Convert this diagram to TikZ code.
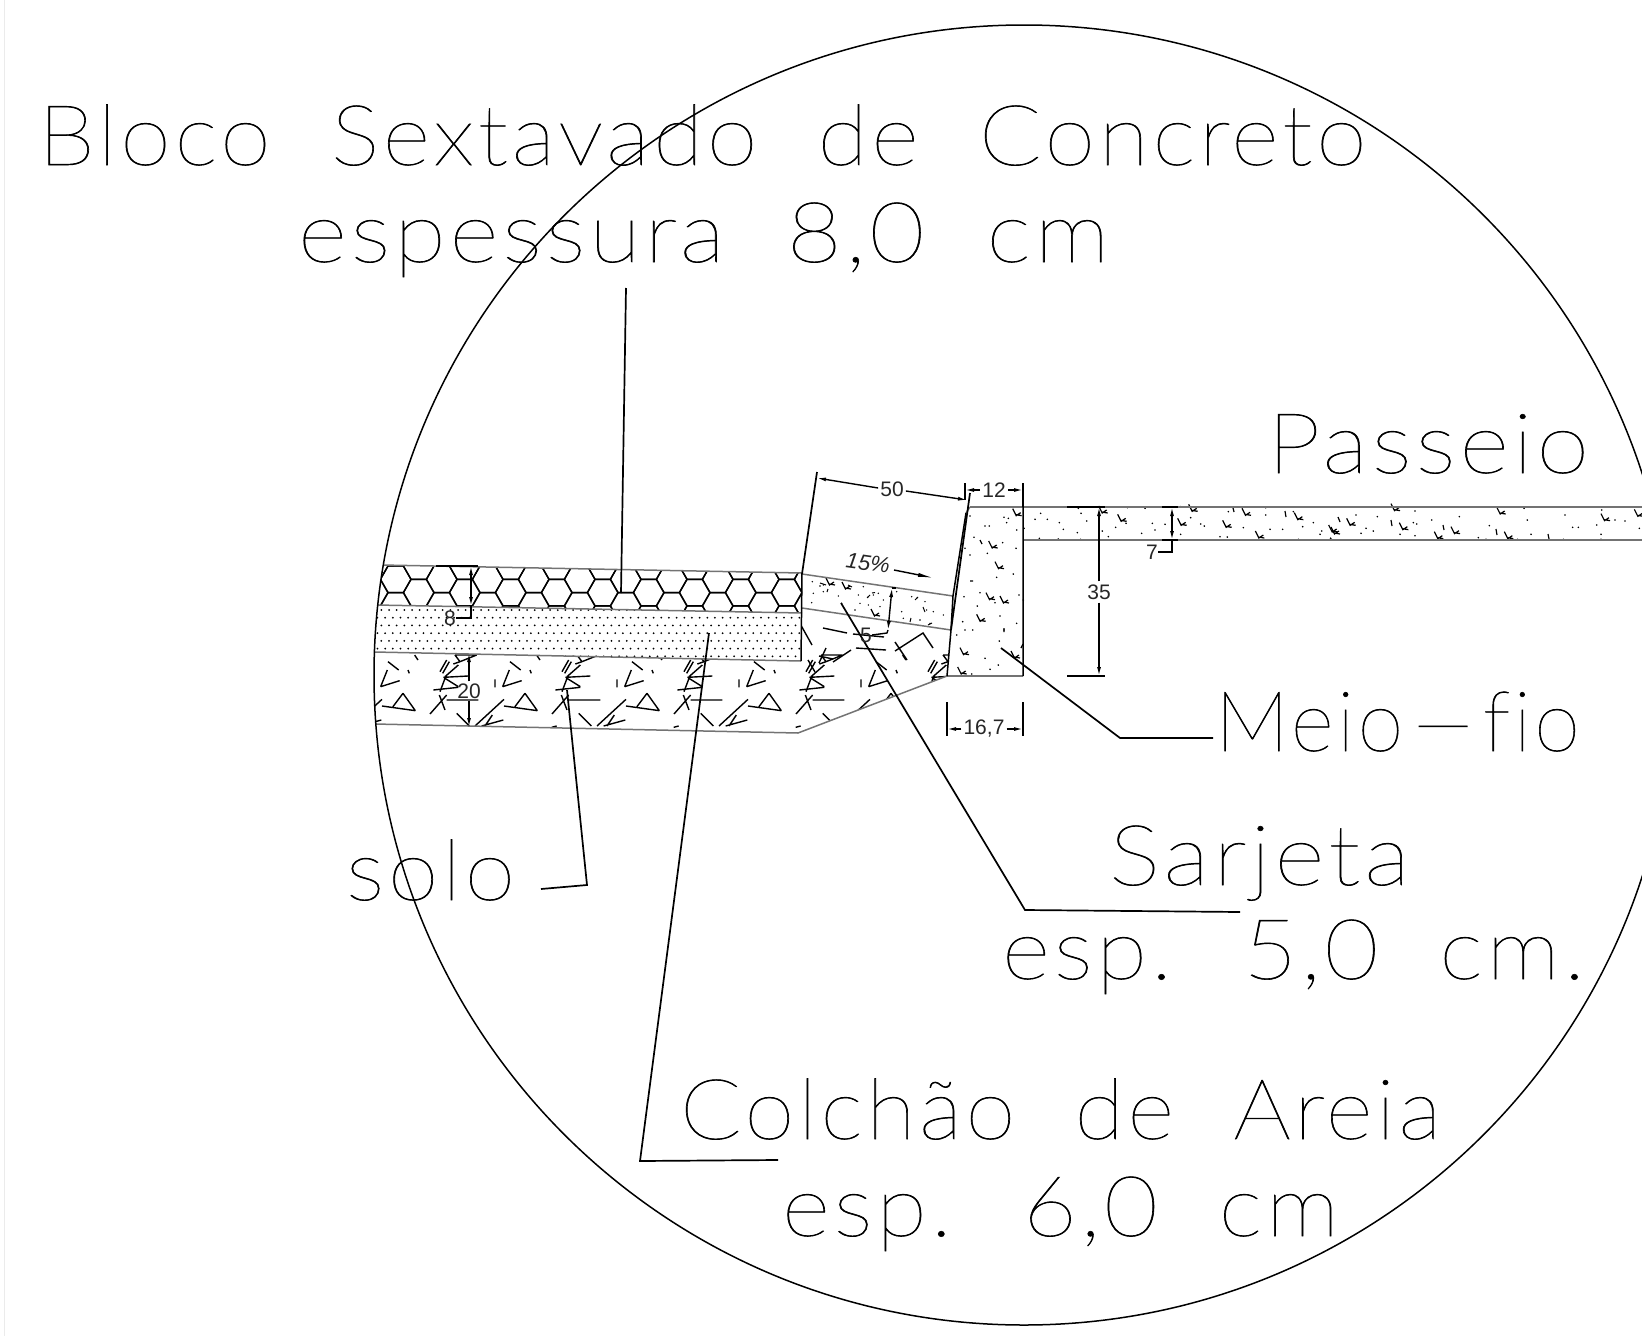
\documentclass[tikz,border=0pt]{standalone}
\usepackage{fontspec}
\usepackage{graphicx}
\usetikzlibrary{arrows.meta}
\setmainfont{Liberation Sans}
\newfontfamily\cadfont{Lato}[UprightFont=* Hairline,LetterSpace=4,FakeBold=0.7,Ligatures=NoCommon]
\newcommand{\cadtext}[5]{\node[cadlabel] (#1) at (#2,#3) {\resizebox{#4pt}{\height}{\cadfont\fontsize{84}{90}\selectfont #5}};}
\newcommand{\wsp}{ \hspace{.33em}}
\newcommand{\chk}[2]{\draw[mark stroke] ({#1-4},{#2-4}) -- ({#1-0.5},{#2+3}) -- ({#1+4},{#2}) ({#1-1},{#2+2}) -- ({#1+5},{#2+3});}
\tikzset{
  cadlabel/.style={anchor=base west,inner sep=0pt,outer sep=0pt},
  dimlabel/.style={font=\fontsize{21}{24}\selectfont,inner sep=0pt,text=black!85},
  layer/.style={draw=black!55,line width=1.5pt},
  leader/.style={draw=black,line width=1.7pt},
  dimline/.style={draw=black,line width=1.4pt},
  tip/.style={-{Latex[length=9pt,width=4pt]}},
  mark stroke/.style={draw=black,line width=1.2pt},
  hatch/.style={draw=black,line width=1.4pt},
  outline/.style={draw=black,line width=1.5pt}
}
\begin{document}
\begin{tikzpicture}[x=1pt,y=-1pt,line cap=butt]
\useasboundingbox (0,0) rectangle (1642,1336);
\clip (0,0) rectangle (1642,1336);
\draw[draw=black!8,line width=1pt] (4,0) -- (4,1336);

% layer corner points
\coordinate (hexTL) at (360,564.6);
\coordinate (hexTR) at (802,573);
\coordinate (sandTL) at (360,604.7);
\coordinate (sandTR) at (802,613);
\coordinate (sandBL) at (360,651.7);
\coordinate (sandBR) at (801,661);
\coordinate (soilBL) at (360,723.7);
\coordinate (soilBM) at (798,733);
\coordinate (gutTL) at (802,574);
\coordinate (gutTR) at (953,596);
\coordinate (gutBL) at (802,608);
\coordinate (gutBR) at (951,630);
\coordinate (curbF) at (947,676);
\coordinate (curbBR) at (1023,676);
\coordinate (curbTR) at (1023,507);
\coordinate (curbBot) at (1023,540);
\coordinate (curbTL) at (970,507);
\coordinate (curbK) at (966,513);

\begin{scope}
\clip (1024,675) circle (650);
% hexagons
\begin{scope}
\clip (hexTL) -- (hexTR) -- (sandTR) -- (sandTL) -- cycle;
\foreach \k in {-4,...,16}{
 \foreach \j in {-1,0,1}{
  \pgfmathsetmacro{\cx}{441.7+23*\k}
  \pgfmathsetmacro{\cy}{579.3+26.6*\j+13.3*mod(abs(\k),2)}
  \draw[hatch] ({\cx-15.3},\cy) -- ({\cx-7.7},{\cy-13.3}) -- ({\cx+7.7},{\cy-13.3}) -- ({\cx+15.3},\cy) -- ({\cx+7.7},{\cy+13.3}) -- ({\cx-7.7},{\cy+13.3}) -- cycle;
 }
}
\end{scope}
% sand dots
\begin{scope}
\clip (sandTL) -- (sandTR) -- (sandBR) -- (sandBL) -- cycle;
\foreach \j in {0,...,6}{
 \foreach \i in {0,...,58}{
  \fill[black] ({366+7.67*\i+3.8*mod(\j,2)},{610+7.72*\j}) circle (1);
 }
}
\end{scope}
% soil hatch
\begin{scope}
\clip (sandBL) -- (sandBR) -- (gutBL) -- (gutBR) -- (curbF) -- (soilBM) -- (soilBL) -- cycle;
\foreach \k in {-1,0,1,2,3,4}{
\begin{scope}[shift={(\k*122+430,640)},x=0.3333pt,y=-0.3333pt]
 \draw[hatch] (30,95)--(50,60) (38,100)--(58,65) (45,110)--(85,75) (40,112)--(115,108)
  (45,115)--(85,140) (10,150)--(85,142) (30,155)--(45,115)
  (75,45)--(90,65)--(70,72) (75,45)--(140,45) (90,65)--(140,45)
  (0,222)--(50,165) (28,165)--(45,210) (50,180)--(145,180)
  (80,220)--(118,258) (135,258)--(222,178) (155,258)--(220,240) (187,225)--(165,258)
  (240,65)--(272,90) (218,140)--(238,90) (218,140)--(275,122) (195,118)--(195,142)
  (222,198)--(322,212) (255,200)--(285,160) (285,160)--(322,212)
  (320,45)--(330,60) (365,262)--(380,258) (300,90)--(304,100);
\end{scope}
}
\draw[hatch] (823,628)--(847,633) (853,634)--(884,637) (856,648)--(886,650)
 (833,662)--(851,650) (826,648)--(819,663) (819,656)--(833,659)
 (895,642)--(907,660) (895,651)--(923,633)--(933,648)
 (808,660)--(815,672) (798,620)--(812,645);
\end{scope}
% sarjeta marks
\begin{scope}
\clip (gutTL) -- (gutTR) -- (gutBR) -- (gutBL) -- cycle;
\foreach \x/\y in {97/365,100/400,130/395,95/428,175/408,185/430,235/405,250/380,265/410,280/405,295/400,240/430,265/435,225/450,300/440,310/420,365/455,370/475,395/410,410/415,435/425,440/450,460/455,490/465,420/480,450/490,350/395,520/410,130/375,120/378}{
  \fill[black] ({780+\x/3},{460+\y/3}) circle (0.8);
}
\draw[mark stroke,line width=1pt] (827,592)--(828,589) (867,598)--(870,595) (915,600)--(918,597) (923,607)--(925,612) (872,593)--(875,592.5) (910,622)--(911,618) (928,625)--(932,623) (848,585)--(852,587) (820,583)--(826,585);
\chk{830}{582}\chk{846}{586}\chk{875}{613}
\end{scope}
\end{scope}

% meio-fio marks
\foreach \x/\y in {570/168,672/172,685/175,680/188,615/198,628/198,710/210,582/232,668/248,555/265,708/265,570/285,622/280,700/342,650/352,600/398,717/405,552/410,645/428,592/438,660/468,548/485,710/490,578/510,555/510,672/510,658/543,615/595,655/615,630/628,575/642,730/420,530/525}{
  \fill[black] ({780+\x/3},{460+\y/3}) circle (0.9);
}
\foreach \x/\y in {710/158,638/255,657/317,672/420,630/410,602/475,552/575,545/633,705/585}{
  \chk{780+\x/3}{460+\y/3}
}
\draw[mark stroke] (980,540)--(982,544) (1004,628)--(1004,632) (970,581)--(973,581) (1021,648)--(1023,644);

% passeio marks
\foreach \x/\y in {175/40,62/55,45/73,82/73,183/55,118/83,200/78,130/103,12/100,172/113,58/130,182/133,115/132,322/38,375/40,397/85,405/105,435/88,365/115,247/108,287/97,265/125,482/35,512/68,482/118,542/87,553/93,625/50,737/38,737/60,670/98,750/103,788/103,848/95,880/83,820/50,600/125,622/126,835/133,905/108,900/118,932/130,318/85}{
  \fill[black] ({1020+\x/3},{495+\y/3}) circle (0.9);
}
\foreach \x/\y in {248/45,305/70,485/82,518/40,620/88,678/52,718/120,835/65,938/102}{
  \chk{1020+\x/3}{495+\y/3}
}
\draw[mark stroke] (1233,508)--(1234,512) (1285,511)--(1286,517);
\foreach \x/\y in {78/60,142/65,108/100,93/115,130/108,305/75,388/65,255/48,250/83,260/87,210/118,255/122,2/130,445/128,468/133,478/92,582/40,592/75,705/60,728/97,745/97,800/90,815/45,855/75,885/78,928/100,563/133,603/118,813/118,813/133,700/133}{
  \fill[black] ({1330+\x/3},{495+\y/3}) circle (0.9);
}
\foreach \x/\y in {195/38,62/82,15/108,220/95,325/122,375/107,512/48,535/122,825/68,925/55}{
  \chk{1330+\x/3}{495+\y/3}
}
\draw[mark stroke] (1338,517)--(1340,522) (1391,520)--(1392,526) (1443,525)--(1444,530) (1496,529)--(1497,535) (1548,534)--(1549,539);

% layer lines
\begin{scope}
\clip (1024,675) circle (650);
\draw[layer] (hexTL) -- (hexTR) (sandTL) -- (sandTR) (sandBL) -- (sandBR) (soilBL) -- (soilBM) -- (curbF);
\draw[layer] (gutTL) -- (gutTR) (gutBL) -- (gutBR);
\draw[outline] (hexTR) -- (sandBR);
\end{scope}
\draw[layer] (curbTL) -- (1642,507) (curbBot) -- (1642,540) (curbF) -- (curbBR);
\draw[outline] (curbTR) -- (curbBR) (curbF) -- (gutBR) -- (gutTR) -- (curbK);
\draw[layer] (curbK) -- (curbTL);

% circle
\draw[outline] (1024,675) circle (650);

% text labels
\cadtext{bloco}{38}{165}{1328}{Bloco\wsp Sextavado\wsp de\wsp Concreto}
\cadtext{espessura}{298}{262}{811}{espessura\wsp 8,0\wsp cm}
\cadtext{passeio}{1267}{473}{322}{Passeio}
\cadtext{meiofio}{1215}{751}{365}{Meio\scalebox{2.6}[1]{-}fio}
\cadtext{sarjeta}{1109}{885}{301}{Sarjeta}
\cadtext{sarjesp}{1002}{979}{583}{esp.\wsp 5,0\wsp cm.}
\cadtext{colchao}{680}{1139}{761}{Colchão\wsp de\wsp Areia}
\cadtext{colchesp}{782}{1236}{557}{esp.\wsp 6,0\wsp cm}
\cadtext{solo}{346}{900}{169}{solo}

% leaders
\coordinate (blocoS) at (626,288);
\coordinate (blocoE) at (621,593);
\draw[leader] (blocoS) -- (blocoE);
\coordinate (soloS) at (541,889);
\coordinate (soloK) at (587,885);
\coordinate (soloE) at (567,690);
\draw[leader] (soloS) -- (soloK) -- (soloE);
\coordinate (colS) at (778,1160);
\coordinate (colK) at (640,1161);
\coordinate (colE) at (709,633);
\draw[leader] (colS) -- (colK) -- (colE);
\coordinate (sarS) at (1240,912);
\coordinate (sarK) at (1025,910);
\coordinate (sarE) at (841,603);
\draw[leader] (sarS) -- (sarK) -- (sarE);
\coordinate (meiS) at (1213,738);
\coordinate (meiK) at (1120,738);
\coordinate (meiE) at (1001,648);
\draw[leader] (meiS) -- (meiK) -- (meiE);

% dimension 50
\coordinate (d50L) at (817,472);
\coordinate (d50R) at (970,493);
\draw[leader] (d50L) -- (gutTL) (d50R) -- (gutBR);
\node[dimlabel] (t50) at (892,489) {50};
\coordinate (a50L) at (817,478);
\coordinate (a50R) at (967,500);
\draw[dimline,tip] (t50.west) ++(-2,-1) -- (a50L);
\draw[dimline,tip] (t50.east) ++(2,2) -- (a50R);
% dimension 12
\node[dimlabel] (t12) at (994,490) {12};
\coordinate (a12L) at (965,490);
\coordinate (a12R) at (1023,490);
\draw[dimline,tip] (t12.west) ++(-2,0) -- (a12L);
\draw[dimline,tip] (t12.east) ++(2,0) -- (a12R);
\draw[dimline] (965,483) -- (965,500) (1023,483) -- (1023,507);
% dimension 16,7
\node[dimlabel] (t167) at (984,729) {16,7};
\coordinate (a167L) at (947,729);
\coordinate (a167R) at (1023,729);
\draw[dimline,tip] (t167.west) ++(-2,0) -- (a167L);
\draw[dimline,tip] (t167.east) ++(2,0) -- (a167R);
\draw[dimline] (947,702) -- (947,736) (1023,702) -- (1023,736);
% dimension 35
\node[dimlabel] (t35) at (1099,592) {35};
\coordinate (a35T) at (1099,507);
\coordinate (a35B) at (1099,676);
\draw[dimline,tip] (t35.north) ++(0,-3) -- (a35T);
\draw[dimline,tip] (t35.south) ++(0,3) -- (a35B);
\draw[dimline] (1067,507) -- (1105,507) (1067,676) -- (1105,676);
% dimension 7
\node[dimlabel] (t7) at (1152,552) {7};
\coordinate (a7T) at (1172,507);
\coordinate (a7B) at (1172,540);
\coordinate (a7M) at (1172,523);
\draw[dimline,tip] (a7M) -- (a7T);
\draw[dimline,tip] (a7M) -- (a7B);
\draw[dimline] (a7B) -- (1172,552) -- (t7.east);
\draw[dimline] (1162,507) -- (1178,507) (1162,540) -- (1178,540);
% dimension 8
\node[dimlabel] (t8) at (450,618) {8};
\coordinate (a8T) at (471,566);
\coordinate (a8B) at (471,606);
\coordinate (a8M) at (471,586);
\draw[dimline,tip] (a8M) -- (a8T);
\draw[dimline,tip] (a8M) -- (a8B);
\draw[dimline] (a8B) -- (471,618) -- (t8.east);
\draw[dimline] (436,566) -- (478,566);
% dimension 20
\node[dimlabel] (t20) at (469,691) {20};
\coordinate (a20T) at (469,653);
\coordinate (a20B) at (469,727);
\draw[dimline,tip] (t20.north) ++(0,-2) -- (a20T);
\draw[dimline,tip] (t20.south) ++(0,2) -- (a20B);
% dimension 5
\node[dimlabel] (t5) at (866,635) {5};
\coordinate (a5T) at (892,588);
\coordinate (a5B) at (888,630);
\coordinate (a5M) at (890,609);
\draw[dimline,tip] (a5M) -- (a5T);
\draw[dimline,tip] (a5M) -- (a5B);
\draw[dimline] (a5B) -- (887,633) -- (t5.east);
\draw[dimline] (a5T) -- (896,588);
% 15%
\node[dimlabel,rotate=-8,font=\fontsize{22}{24}\selectfont\itshape] (t15) at (868,563) {15\%};
\coordinate (a15S) at (894,570);
\coordinate (a15E) at (934,578);
\draw[dimline,-{Latex[length=16pt,width=4pt]}] (a15S) -- (a15E);
\end{tikzpicture}
\end{document}
